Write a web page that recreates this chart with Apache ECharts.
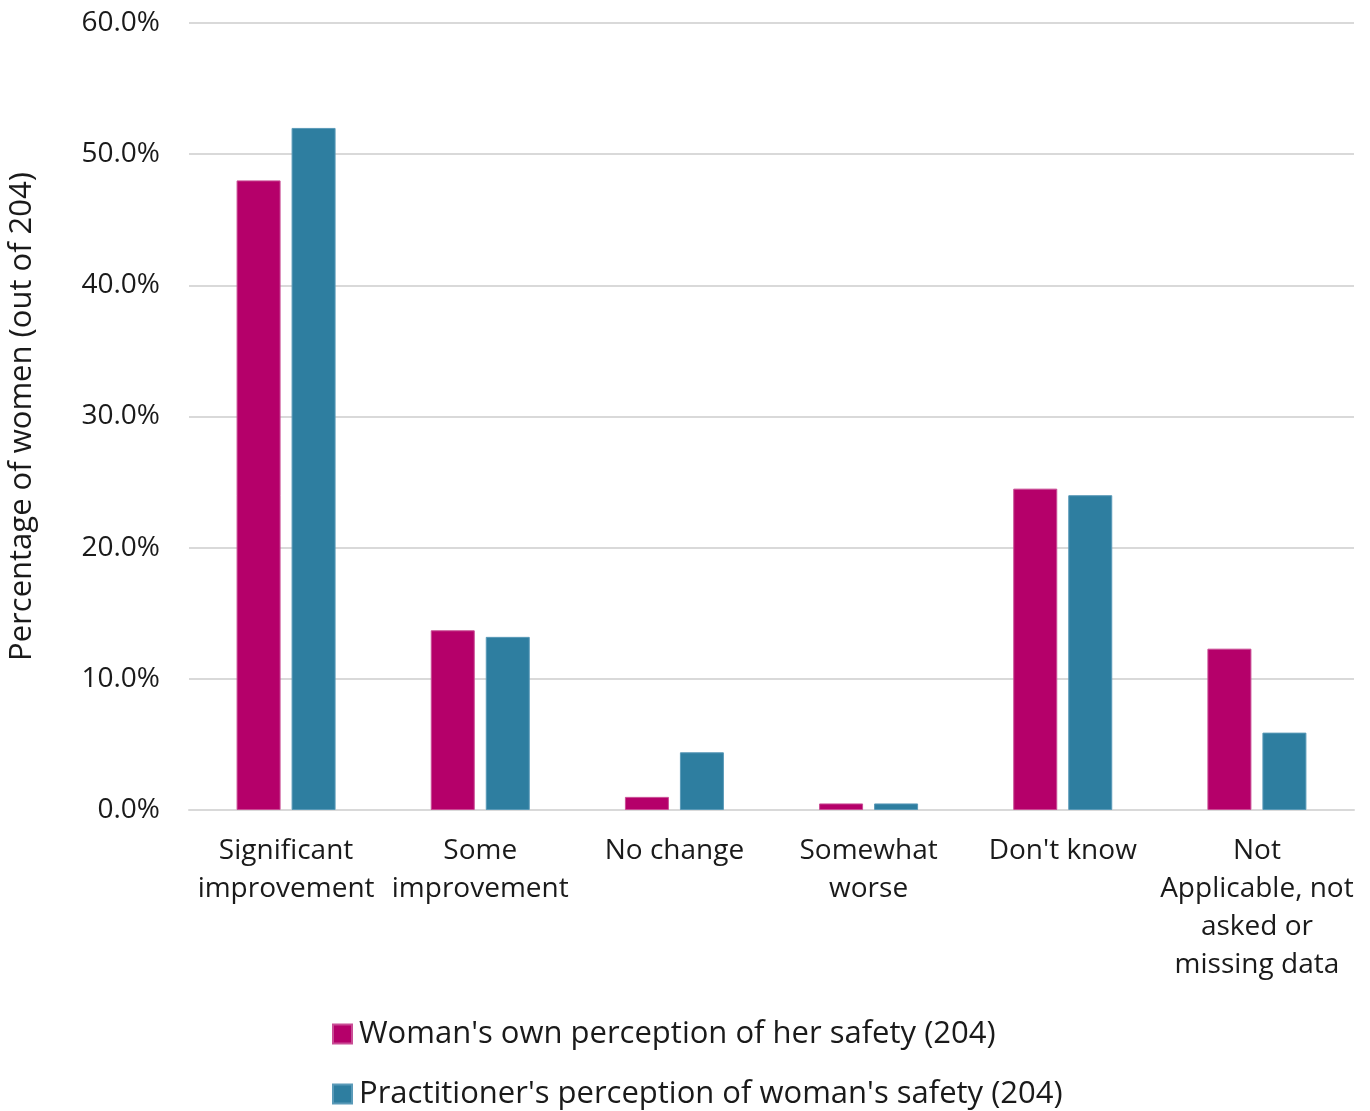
<!DOCTYPE html>
<html><head><meta charset="utf-8">
<script src="https://cdn.jsdelivr.net/npm/echarts@6/dist/echarts.min.js"></script>
<style>html,body{margin:0;padding:0;background:#fff}#c{width:1370px;height:1111px}</style>
</head><body><div id="c"></div>
<script>
var categories = ["Significant\nimprovement", "Some\nimprovement", "No change", "Somewhat\nworse", "Don't know", "Not\nApplicable, not\nasked or\nmissing data"];
var seriesNames = ["Woman's own perception of her safety (204)", "Practitioner's perception of woman's safety (204)"];
var womanValues = [48.0, 13.7, 1.0, 0.5, 24.5, 12.3];
var practitionerValues = [52.0, 13.2, 4.4, 0.5, 24.0, 5.9];
var yAxisName = "Percentage of women (out of 204)";

var font = "'Open Sans', 'Noto Sans', sans-serif";
var chart = echarts.init(document.getElementById('c'), null, {renderer: 'canvas'});
chart.setOption({
  animation: false,
  textStyle: {fontFamily: font},
  grid: {left: 189, right: 16, top: 23, bottom: 301, containLabel: false, outerBoundsMode: 'none'},
  legend: {
    orient: 'vertical', left: 332, top: 1017, padding: 0,
    itemWidth: 19, itemHeight: 19, itemGap: 26, icon: 'rect',
    textStyle: {fontFamily: font, fontSize: 31, lineHeight: 34, color: '#1a1a1a', padding: [0,0,0,2]},
    data: seriesNames
  },
  xAxis: {
    type: 'category', data: categories,
    axisLine: {lineStyle: {color: '#d9d9d9', width: 2}},
    axisTick: {show: false},
    axisLabel: {fontFamily: font, fontSize: 28, color: '#1a1a1a', lineHeight: 38, margin: 22, interval: 0}
  },
  yAxis: {
    type: 'value', min: 0, max: 60, interval: 10,
    name: yAxisName, nameLocation: 'middle', nameGap: 151, nameRotate: 90,
    nameTextStyle: {fontFamily: font, fontSize: 31, color: '#1a1a1a'},
    axisLabel: {fontFamily: font, fontSize: 28, color: '#1a1a1a', margin: 29, formatter: function(v){return v.toFixed(1) + '%';}},
    splitLine: {lineStyle: {color: '#d9d9d9', width: 2}},
    axisLine: {show: false}, axisTick: {show: false}
  },
  series: [
    {name: seriesNames[0], type: 'bar', data: womanValues, barWidth: 44, barGap: '25%',
     itemStyle: {color: '#b5006a', borderColor: '#c94d95', borderWidth: 1}},
    {name: seriesNames[1], type: 'bar', data: practitionerValues, barWidth: 44, barGap: '25%',
     itemStyle: {color: '#2e7ea0', borderColor: '#5a9ab8', borderWidth: 1}}
  ]
});
</script></body></html>
